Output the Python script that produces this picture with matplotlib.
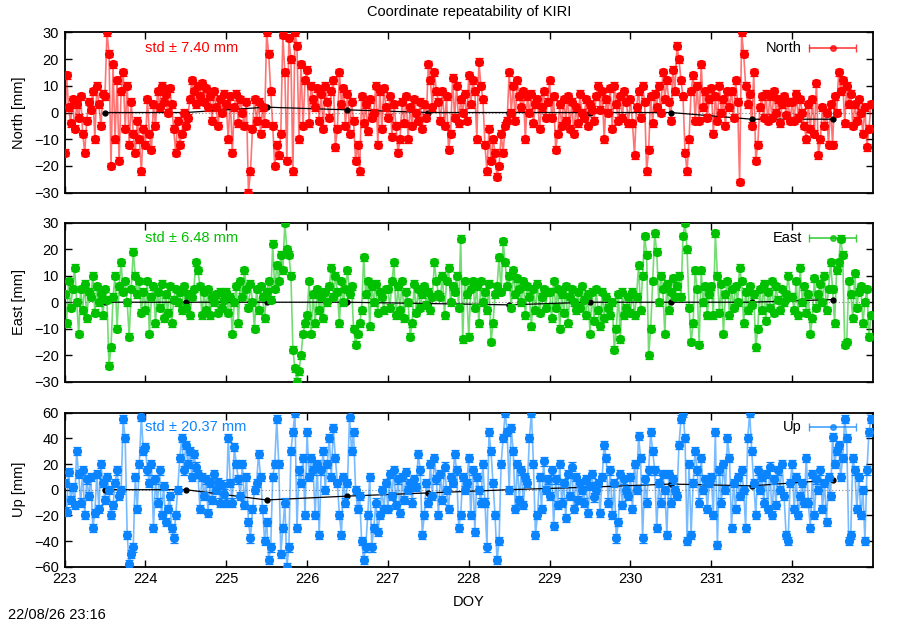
import numpy as np
import matplotlib
matplotlib.use("Agg")
import matplotlib.pyplot as plt

plt.rcParams['font.family'] = ['Liberation Sans', 'DejaVu Sans']

# DATA (mm), one sample every 0.025 day starting at DOY 223, one row per day

doy_start = 223.0
doy_step = 0.025

north = [
    -15, 14, 2, -4, 5, -6, 3, -2, 6, -8, -15, -3, 4, 1, 8, -10, 10, 3, -5, 7, 6, 30, 22, -20, 18, -10, 12, -18, 8, 15, -6, 10, -12, 4, -8, -15, -3, -10, -22, -6,
    -12, 5, -8, -14, 3, -5, 8, 2, 10, 4, 7, 0, 9, 3, -6, -15, -3, -12, -8, 0, -5, -2, 5, 12, 8, 3, 10, 6, 11, 4, 9, 2, 6, -3, 8, 2, -5, 5, 0, 7,
    3, -10, 6, -15, 2, 7, -4, 5, 0, -5, 4, -30, -22, -6, 5, -3, 4, -8, 2, -4, 30, 22, 8, -5, -20, -12, -16, -8, 29, 15, -18, 28, 20, -22, 30, 25, -10, 18, -5, 12,
    16, -4, 10, 5, 2, 9, -3, 7, -6, 10, 4, -2, 8, 12, -13, -6, 15, 3, 9, -5, 7, -8, 4, -3, -18, -12, -22, 6, -4, 3, -7, 5, -2, 0, 10, -12, 8, -6, 9, 2,
    -2, 6, -9, 3, -5, -15, -10, 4, -4, 6, -10, 2, -5, 5, 0, -3, 4, -6, 3, -2, 18, 12, 2, 15, 8, 4, -3, 8, -5, 6, -14, -8, 13, -2, 10, -4, 5, 0, 7, -3,
    14, 3, 12, 8, -10, 19, 10, 5, -12, -22, -6, -18, -10, -15, -24, -20, -8, -15, -5, -3, 15, 0, 10, -3, 12, 6, 2, 8, -10, 6, 0, 7, -4, 3, 5, -6, 2, 8, -2, 4,
    12, -2, 6, -14, -8, 3, -5, 5, -3, 6, -6, 4, -8, 2, -4, 7, 0, -2, 5, -5, 3, 1, -3, 6, 10, 1, 8, -10, 5, 0, 9, -6, 10, 3, -3, 6, -2, 8, 4, -4,
    5, -4, -16, 2, 8, -2, 10, 4, -22, -14, 6, -4, 7, 2, 10, 0, 15, 5, 12, 4, -3, 16, 8, 25, 20, 12, 6, -15, -22, -10, 8, 14, -3, 10, -3, 18, 2, 8, -2, 5,
    9, -8, 6, -3, 10, 0, 5, -5, 8, 2, 8, -2, 12, 4, -26, 30, 22, 10, 3, 7, -5, 15, -18, -12, 2, 6, -2, 7, -3, 6, -2, 8, 0, 5, -4, 3, 6, -1, 4, -3,
    4, -3, 7, -2, 5, 0, -5, -10, 3, -6, 5, -8, 11, -16, -10, 2, -5, 0, -12, 3, -12, 6, 0, 15, 8, 12, -4, 10, 3, 7, -5, 3, -3, 5, 0, -8, 2, -13, -6, 3,
]

east = [
    3, -8, 8, -2, 5, 13, 0, -12, 5, -3, 7, -6, 4, 2, 10, -4, 6, 0, 3, -5, 5, 1, -24, -17, 2, 10, -10, 6, 15, 4, 8, 0, -13, 5, 19, 10, 3, 8, -4, 4,
    -3, 8, -12, 2, 6, -8, 4, -2, 7, -6, 3, -4, 6, -8, 1, 5, 0, 4, -3, 6, -2, 3, -5, 2, 5, 15, 12, 6, -5, 4, -3, 5, -5, 2, 0, 3, -4, 4, -2, 1,
    4, -4, 2, -12, 0, 6, -8, 8, 2, 12, 5, -2, 7, 0, -10, 5, -3, 6, 2, -6, 4, 8, 1, 22, 5, 14, 8, 18, 12, 30, 20, 18, 10, -18, -25, -30, -26, -20, -12, -8,
    -5, 8, -12, 3, -8, 5, -3, 2, -6, 4, 0, 6, 13, 2, 10, 4, -8, 8, 0, 5, 12, 3, 6, -10, -16, -12, -8, -3, 17, 3, 8, -9, 6, 0, 7, -4, 4, 2, -3, 5,
    5, -2, 8, 15, -5, 6, -3, 8, -6, 4, 0, -13, -8, 7, -4, 5, -2, 3, 6, -1, 4, -3, 2, 15, 8, 3, 2, 10, -5, 8, 13, 0, 6, 4, 10, -2, 24, -14, 8, 3,
    -13, 5, 8, -2, 6, -8, 8, 0, 4, -3, 7, -15, -8, 3, 6, 17, 4, 23, 15, 6, 10, -2, 12, 3, 9, 5, 0, 8, -5, 6, 2, -9, 5, -3, 7, -4, 2, 5, -2, 4,
    4, -6, 8, -2, 5, -10, 3, -4, 6, -8, 2, 5, 0, -3, 4, -2, 6, 1, -5, 3, -12, 4, -7, 5, -3, -9, 4, -6, 2, -2, -5, 0, -18, -10, 3, -14, 4, -5, -2, 2,
    -4, 4, -5, 2, 14, -3, 10, 25, 18, -20, -10, 8, 26, 19, 0, 10, 5, -12, 7, -3, 4, 9, 2, 6, 10, 2, 25, 30, 20, -2, -15, -8, 12, 5, -16, 12, 0, 6, -5, 3,
    6, -5, 26, 10, -4, 7, -12, 3, 8, -5, 5, -2, 6, 0, 13, 8, -8, 4, -3, 6, -1, 3, -17, -10, 5, -3, 7, -7, 4, -2, 8, -4, 6, 1, -3, 5, 0, 3, 10, 2,
    2, -3, 8, -5, 13, 0, 6, -4, 3, -12, -6, 9, -2, 3, 7, 0, 10, -3, 5, 15, 5, -8, 12, 15, 24, 18, -16, -15, 8, 3, -6, 11, -2, 4, 6, -8, 0, 5, -13, -5,
]

up = [
    5, -17, 14, -8, 2, -12, 30, 12, -10, 15, -20, 8, -5, 10, -30, -18, 12, -15, 20, 5, -8, 10, 0, -20, -12, 5, 15, -5, 0, 55, 40, -35, -58, -50, -45, 10, -15, 20, 57, 30,
    33, 15, 5, 20, -30, 8, -10, 15, -20, 3, -25, -15, -5, -30, -38, -20, 0, 25, 40, 15, 35, 20, 30, 10, 28, 18, 12, -15, 10, -5, 8, -18, 5, -8, 12, 0, 6, -10, 4, -3,
    -10, 40, 5, -10, 33, 20, 8, -5, 20, -12, 10, -25, -38, -15, 0, 5, 28, 10, -15, -40, -25, -55, -45, 10, 20, 55, 20, -50, -30, -10, -60, -45, 30, 45, 60, -30, 15, 5, 25, -20,
    45, 10, 25, 15, -20, 20, -35, 15, 30, 0, 20, 40, 10, 48, 25, 5, -20, -35, 10, -10, 5, 57, 30, 45, 0, -15, -5, -40, -55, -45, -20, 10, -45, -30, -10, -33, -20, 0, -15, 5,
    -15, 12, -5, 15, -12, 8, -18, 10, -8, 14, 0, 5, -10, 8, 2, 28, 15, -35, -20, 5, -10, 20, -5, 25, 8, -20, 12, -8, 18, 0, -15, 10, 5, 28, 15, -30, -20, 10, 0, 5,
    25, -20, 15, -33, 10, 0, -10, 20, -10, -45, 45, 30, 5, -20, -55, -40, 20, 40, 60, 45, 0, 48, 30, -15, 20, -8, 15, -12, 10, 5, 40, 60, 20, -35, -20, 10, -15, 22, 0, 8,
    -5, 15, -28, 8, -12, 20, -10, 5, -22, 12, -5, 18, -15, 10, -8, 5, 0, -10, 8, -18, 3, 12, -6, 0, 5, -18, 10, 35, 25, -10, 15, -20, 5, -38, -25, 12, -12, 8, 0, -5,
    10, -15, 20, 0, 42, 25, -38, 8, -10, 15, 45, 30, 15, -30, 5, -10, 12, 0, -35, 12, -10, 8, 0, -5, 35, 55, 60, 40, -40, 20, -35, 5, 30, 15, -10, 25, 0, 8, -15, 5,
    10, -20, 45, -43, 15, -10, 20, 0, 40, 25, -30, 5, -15, 10, -5, 15, 0, -30, 40, 60, 30, 5, -20, 15, 0, 10, -10, 12, -15, 18, -20, 8, -12, 15, 0, 20, -5, -35, -40, 5,
    20, -15, 10, -20, -5, 5, -10, 25, -10, -30, 12, -20, 8, 0, 15, -15, 5, -25, 10, -5, 41, 20, 30, 35, 10, 25, 55, 40, -40, -35, 25, 15, -15, 10, -20, 0, -40, 15, 45, 55,
]

# daily solutions (black line)
day_doy = [223.5, 224.5, 225.5, 226.5, 227.5, 228.5, 229.5, 230.5, 231.5, 232.5]
north_day = [0, 0, 2, 1, 0, 0, 0, 0, -2.5, -2.5]
east_day = [0, 0, 0, 0, -0.5, -1, 0, 0, 0, 1]
up_day = [0, 0, -8, -5, -2.5, 0, 2, 4.4, 3, 7.5]

names = ["North", "East", "Up"]
std_labels = ["std \u00b1 7.40 mm", "std \u00b1 6.48 mm", "std \u00b1 20.37 mm"]
colors = ["#ff0000", "#00c000", "#0a84ff"]
ylims = [30, 30, 60]
ysteps = [10, 10, 20]
sigmas = [1.3, 1.3, 3.2]

# PLOT

fig = plt.figure(figsize=(9, 6.3), dpi=100)
left, width = 0.0717, 0.8983
boxes = [(0.6941, 0.2546), (0.3941, 0.2524), (0.1005, 0.2444)]

series = [north, east, up]
daily = [north_day, east_day, up_day]

for k in range(3):
    ax = fig.add_axes([left, boxes[k][0], width, boxes[k][1]])
    vals = np.array(series[k], dtype=float)
    t = doy_start + doy_step * np.arange(len(vals))
    c = colors[k]

    ax.axhline(0, color="#888888", lw=0.8, ls=(0, (1, 2)), zorder=1)
    ax.plot(t, vals, color=c, lw=1.2, alpha=0.55, zorder=2)
    ax.plot(day_doy, daily[k], color="black", lw=0.9, marker="o", ms=3.5, zorder=2.5)
    ax.errorbar(t, vals, yerr=sigmas[k], fmt="o", ms=5.6, color=c, ecolor=c,
                elinewidth=0.9, capsize=2.8, capthick=0.9, zorder=3)

    lim = ylims[k]
    ax.set_xlim(223, 233)
    ax.set_ylim(-lim, lim)
    ax.set_yticks(np.arange(-lim, lim + 1, ysteps[k]))
    ax.set_xticks(np.arange(223, 233))
    ax.tick_params(direction="in", length=5, width=1, top=True, right=True,
                   labelsize=10.5, pad=4)
    for s in ax.spines.values():
        s.set_linewidth(1.3)
    if k < 2:
        ax.set_xticklabels([])
    ax.set_ylabel(names[k] + " [mm]", fontsize=10.5, labelpad=6)

    ax.text(0.0996, 0.905, std_labels[k], transform=ax.transAxes, color=c,
            fontsize=10.5, va="center", ha="left", zorder=6)

    # legend like gnuplot
    ax.text(0.912, 0.905, names[k], transform=ax.transAxes, fontsize=10.5,
            va="center", ha="right", zorder=6)
    ax.errorbar([0.950], [0.905], xerr=[0.029], fmt="o", ms=4, color=c,
                ecolor=c, alpha=0.75, elinewidth=1.2, capsize=3,
                transform=ax.transAxes, clip_on=False, zorder=5)

    if k == 2:
        ax.set_xlabel("DOY", fontsize=10.5, labelpad=6)

fig.text(left + width / 2, 0.981, "Coordinate repeatability of KIRI",
         ha="center", va="center", fontsize=10.5)
fig.text(0.009, 0.012, "22/08/26 23:16", ha="left", va="bottom", fontsize=10.5)

fig.savefig("out.png", dpi=100)
